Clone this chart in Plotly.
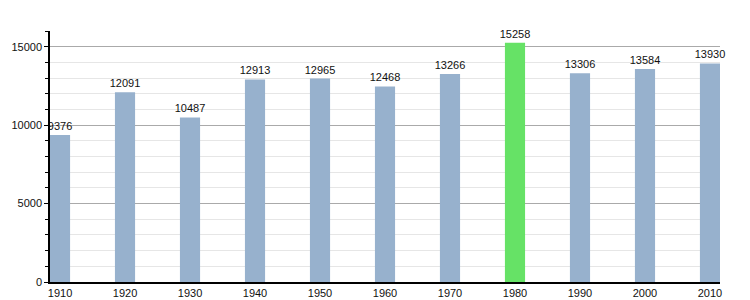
import plotly.graph_objects as go

years = [1910, 1920, 1930, 1940, 1950, 1960, 1970, 1980, 1990, 2000, 2010]
population = [9376, 12091, 10487, 12913, 12965, 12468, 13266, 15258, 13306, 13584, 13930]
highlight_year = 1980
y_ticks = [0, 5000, 10000, 15000]

colors = ["rgb(102,226,102)" if y == highlight_year else "rgb(151,177,205)" for y in years]

fig = go.Figure(go.Bar(
    x=years, y=population, width=3.1,
    marker=dict(color=colors, line=dict(width=0)),
    text=[str(v) for v in population], textposition="outside",
    constraintext="none",
    textfont=dict(family="Liberation Sans, Arial, sans-serif", size=11, color="#111"),
    cliponaxis=False,
))

fig.update_layout(
    width=750, height=300,
    margin=dict(l=50, r=30, t=31, b=18),
    paper_bgcolor="white", plot_bgcolor="white",
    showlegend=False,
    font=dict(family="Liberation Sans, Arial, sans-serif", size=11, color="#111"),
    xaxis=dict(
        range=[1908.46, 2011.54], tickvals=years, ticktext=[str(y) for y in years],
        showgrid=False, showline=True, linecolor="black", linewidth=1.5,
        ticks="", zeroline=False, automargin=False,
    ),
    yaxis=dict(
        range=[0, 16000], tickvals=y_ticks, ticktext=[str(v) for v in y_ticks],
        showgrid=True, gridcolor="#aaaaaa", gridwidth=1,
        showline=True, linecolor="black", linewidth=1.5,
        ticks="outside", ticklen=4, tickcolor="black", zeroline=False,
        automargin=False,
        minor=dict(dtick=1000, tick0=0, showgrid=True, gridcolor="#e6e6e6",
                   ticks="outside", ticklen=3, tickcolor="black"),
    ),
)

fig.write_html("out.html")
